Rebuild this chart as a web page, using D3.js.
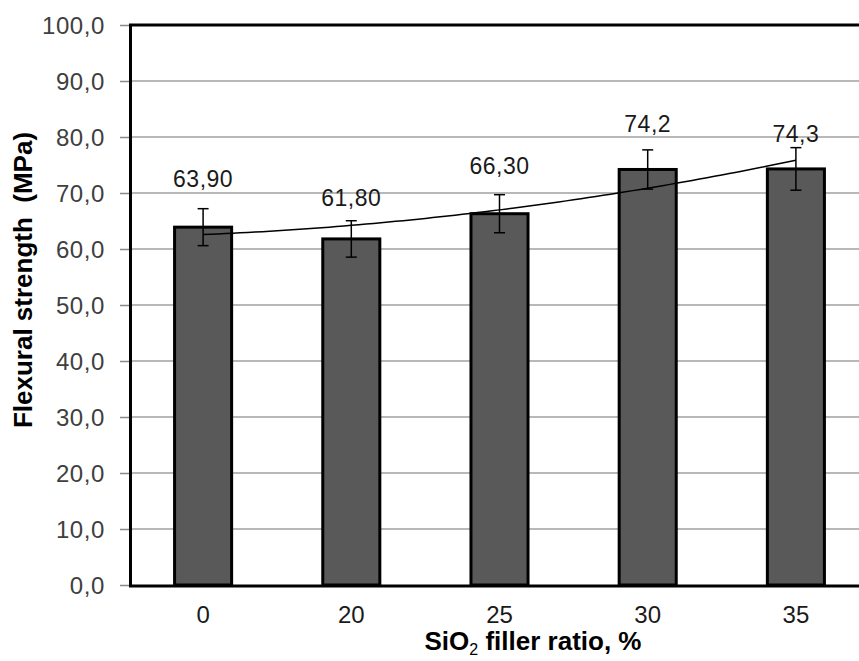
<!DOCTYPE html>
<html><head><meta charset="utf-8">
<script src="https://cdn.jsdelivr.net/npm/d3@7"></script>
<style>body{margin:0;background:#fff}svg{display:block}</style>
</head><body>
<svg id="c" width="859" height="661"></svg>
<script>
// ---- data ----
const categories = ["0", "20", "25", "30", "35"];
const strength = [63.9, 61.8, 66.3, 74.2, 74.3];
const errors = [3.3, 3.25, 3.4, 3.5, 3.8];
const valueLabels = ["63,90", "61,80", "66,30", "74,2", "74,3"];
const yTicks = [0, 10, 20, 30, 40, 50, 60, 70, 80, 90, 100];
const xTitle = "SiO";
const xTitleSub = "2";
const xTitleRest = " filler ratio, %";
const yTitle = "Flexural strength  (MPa)";

// ---- layout / style (not data) ----
const labelOffsets = [49, 41, 48, 45.5, 35]; // px above bar top (manually placed labels)
const plot = {left: 129, top: 25, bottom: 585, right: 870};

const svg = d3.select("#c");
svg.append("rect").attr("width", 859).attr("height", 661).attr("fill", "#fff");

const y = d3.scaleLinear().domain([0, 100]).range([plot.bottom, plot.top]);
const x = d3.scaleBand().domain(categories).range([plot.left, plot.right]).padding(0);
const cx = c => x(c) + x.bandwidth() / 2;
const barW = x.bandwidth() * 0.385;

// gridlines
svg.append("g").selectAll("line").data(yTicks.filter(t => t > 0 && t < 100)).join("line")
  .attr("x1", plot.left).attr("x2", 859)
  .attr("y1", d => y(d)).attr("y2", d => y(d))
  .attr("stroke", "#a0a0a0").attr("stroke-width", 1.5);

// y axis with d3 axis
const yAxis = d3.axisLeft(y).tickValues(yTicks).tickSize(9).tickPadding(15)
  .tickFormat(d => d3.format(".1f")(d).replace(".", ","));
const gy = svg.append("g").attr("transform", `translate(${plot.left},0)`).call(yAxis);
gy.select(".domain").remove();
gy.selectAll(".tick line").attr("stroke", "#8a8a8a").attr("stroke-width", 1.5);
gy.selectAll(".tick text").attr("font-family", "Liberation Sans, Arial, sans-serif")
  .attr("font-size", 24).attr("letter-spacing", 0.6).attr("fill", "#404040").attr("dy", "0.36em");

// bars
svg.append("g").selectAll("rect").data(strength).join("rect")
  .attr("x", (d, i) => cx(categories[i]) - barW / 2)
  .attr("y", d => y(d))
  .attr("width", barW)
  .attr("height", d => y(0) - y(d))
  .attr("fill", "#595959").attr("stroke", "#000").attr("stroke-width", 3);

// error bars
const eg = svg.append("g").attr("stroke", "#000").attr("stroke-width", 1.5);
strength.forEach((v, i) => {
  const c = cx(categories[i]);
  eg.append("line").attr("x1", c).attr("x2", c).attr("y1", y(v + errors[i])).attr("y2", y(v - errors[i]));
  eg.append("line").attr("x1", c - 5.5).attr("x2", c + 5.5).attr("y1", y(v + errors[i])).attr("y2", y(v + errors[i]));
  eg.append("line").attr("x1", c - 5.5).attr("x2", c + 5.5).attr("y1", y(v - errors[i])).attr("y2", y(v - errors[i]));
});

// polynomial (order 2) trendline, least squares on the bar values (x = 1..n)
function polyFit2(ys) {
  const xs = ys.map((_, i) => i + 1);
  let s = [0,0,0,0,0], t = [0,0,0];
  xs.forEach((xv, i) => {
    for (let k = 0; k < 5; k++) s[k] += Math.pow(xv, k);
    for (let k = 0; k < 3; k++) t[k] += Math.pow(xv, k) * ys[i];
  });
  const A = [[s[0], s[1], s[2], t[0]], [s[1], s[2], s[3], t[1]], [s[2], s[3], s[4], t[2]]];
  for (let i = 0; i < 3; i++) {
    for (let j = i + 1; j < 3; j++) {
      const f = A[j][i] / A[i][i];
      for (let k = i; k < 4; k++) A[j][k] -= f * A[i][k];
    }
  }
  const c = [0,0,0];
  for (let i = 2; i >= 0; i--) {
    let sum = A[i][3];
    for (let k = i + 1; k < 3; k++) sum -= A[i][k] * c[k];
    c[i] = sum / A[i][i];
  }
  return c;
}
const coef = polyFit2(strength);
const trendX = d3.range(1, categories.length + 0.001, 0.05);
const xPos = d3.scaleLinear().domain([1, categories.length]).range([cx(categories[0]), cx(categories[categories.length - 1])]);
const line = d3.line().x(d => xPos(d)).y(d => y(coef[0] + coef[1] * d + coef[2] * d * d));
svg.append("path").datum(trendX).attr("d", line).attr("fill", "none")
  .attr("stroke", "#000").attr("stroke-width", 1.5);

// value labels
svg.append("g").selectAll("text").data(valueLabels).join("text")
  .attr("x", (d, i) => cx(categories[i]))
  .attr("y", (d, i) => y(strength[i]) - labelOffsets[i] + 8.5)
  .attr("text-anchor", "middle")
  .attr("font-family", "Liberation Sans, Arial, sans-serif").attr("font-size", 23)
  .attr("letter-spacing", 0.5)
  .attr("fill", "#1a1a1a")
  .text(d => d);

// plot frame (top, left, bottom)
svg.append("line").attr("x1", plot.left).attr("x2", 859).attr("y1", plot.top).attr("y2", plot.top)
  .attr("stroke", "#000").attr("stroke-width", 3);
svg.append("line").attr("x1", plot.left + 1.5).attr("x2", plot.left + 1.5).attr("y1", plot.top).attr("y2", plot.bottom)
  .attr("stroke", "#000").attr("stroke-width", 3);
svg.append("line").attr("x1", plot.left).attr("x2", 859).attr("y1", plot.bottom + 1).attr("y2", plot.bottom + 1)
  .attr("stroke", "#000").attr("stroke-width", 3);

// x tick labels
const xAxis = d3.axisBottom(x).tickSize(0).tickPadding(0);
const gx = svg.append("g").attr("transform", `translate(0,${plot.bottom})`).call(xAxis);
gx.select(".domain").remove();
gx.selectAll(".tick text").attr("font-family", "Liberation Sans, Arial, sans-serif")
  .attr("font-size", 24).attr("fill", "#1a1a1a").attr("dy", null).attr("y", 37.5);

// axis titles
const xt = svg.append("text").attr("x", 533).attr("y", 650).attr("text-anchor", "middle")
  .attr("font-family", "Liberation Sans, Arial, sans-serif").attr("font-size", 26)
  .attr("font-weight", "bold").attr("fill", "#000");
xt.append("tspan").text(xTitle);
xt.append("tspan").attr("font-size", 16).attr("font-weight", "normal").attr("dy", 5).text(xTitleSub);
xt.append("tspan").attr("dy", -5).text(xTitleRest);

svg.append("text").attr("transform", "translate(32,280) rotate(-90)").attr("text-anchor", "middle")
  .attr("font-family", "Liberation Sans, Arial, sans-serif").attr("font-size", 26)
  .style("white-space", "pre")
  .attr("font-weight", "bold").attr("fill", "#000").text(yTitle);
</script>
</body></html>
